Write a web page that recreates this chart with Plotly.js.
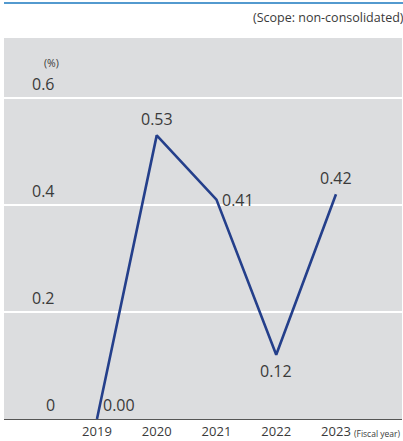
<!DOCTYPE html>
<html>
<head>
<meta charset="utf-8">
<script src="https://cdn.plot.ly/plotly-3.0.1.min.js"></script>
<style>
html,body{margin:0;padding:0;background:#fff;}
#chart{width:403px;height:441px;}
</style>
</head>
<body>
<div id="chart"></div>
<script>
// Data
const years = [2019, 2020, 2021, 2022, 2023];
const rates = [0.00, 0.53, 0.41, 0.12, 0.42];
const yTickVals = [0, 0.2, 0.4, 0.6];
const yTickText = ['0', '0.2', '0.4', '0.6'];

// label placement (style, not data)
const labelAnchors = [
  {xanchor: 'left', yanchor: 'bottom', xshift: 4, yshift: 1},
  {xanchor: 'center', yanchor: 'bottom', xshift: 0, yshift: 3},
  {xanchor: 'left', yanchor: 'middle', xshift: 4, yshift: 0},
  {xanchor: 'center', yanchor: 'top', xshift: 0, yshift: -3},
  {xanchor: 'center', yanchor: 'bottom', xshift: 0, yshift: 3}
];

const FONT = '"Open Sans", "Noto Sans", sans-serif';
const TXT = '#3a3a3a';

const trace = {
  x: years,
  y: rates,
  type: 'scatter',
  mode: 'lines',
  line: {color: '#243f8b', width: 2.6},
  cliponaxis: false,
  hoverinfo: 'skip'
};

const annotations = years.map((yr, i) => Object.assign({
  xref: 'x', yref: 'y', x: yr, y: rates[i],
  text: rates[i].toFixed(2), showarrow: false,
  font: {family: FONT, size: 16, color: TXT}
}, labelAnchors[i]));

yTickVals.forEach((v, i) => annotations.push({
  xref: 'paper', yref: 'y', x: 0.133, y: v,
  xanchor: 'right', yanchor: 'bottom', yshift: 1,
  text: yTickText[i], showarrow: false,
  font: {family: FONT, size: 16, color: TXT}
}));
annotations.push({
  xref: 'paper', yref: 'paper', x: 0.12, y: 0.935,
  xanchor: 'center', yanchor: 'middle',
  text: '(%)', showarrow: false,
  font: {family: FONT, size: 10.5, color: TXT}
});
annotations.push({
  xref: 'paper', yref: 'paper', x: 1.01, y: 1.053,
  xanchor: 'right', yanchor: 'middle',
  text: '(Scope: non-consolidated)', showarrow: false,
  font: {family: FONT, size: 12.5, color: TXT}
});
annotations.push({
  xref: 'paper', yref: 'paper', x: 1.0, y: -0.039,
  xanchor: 'right', yanchor: 'middle',
  text: '(Fiscal year)', showarrow: false,
  font: {family: '"Liberation Sans Narrow", "Open Sans", sans-serif', size: 8.5, color: TXT}
});

const layout = {
  width: 403, height: 441,
  margin: {l: 4, r: 1, t: 38, b: 22, pad: 0},
  paper_bgcolor: '#ffffff',
  plot_bgcolor: '#dcdddf',
  showlegend: false,
  xaxis: {
    range: [2017.444, 2024.105],
    tickvals: years,
    ticktext: years.map(String),
    showgrid: false, zeroline: false,
    showline: true, linecolor: '#555555', linewidth: 1,
    ticks: '', tickfont: {family: FONT, size: 13, color: TXT},
    fixedrange: true
  },
  yaxis: {
    range: [0, 0.712],
    tickvals: yTickVals,
    showticklabels: false,
    showgrid: true, gridcolor: '#ffffff', gridwidth: 1.5,
    zeroline: false, showline: false, ticks: '',
    fixedrange: true
  },
  shapes: [{
    type: 'line', xref: 'paper', yref: 'paper',
    x0: 0, x1: 1.01, y0: 1.0919, y1: 1.0919,
    line: {color: '#1a78bf', width: 1.5}
  }],
  annotations: annotations
};

Plotly.newPlot('chart', [trace], layout, {displayModeBar: false, staticPlot: true});
</script>
</body>
</html>
